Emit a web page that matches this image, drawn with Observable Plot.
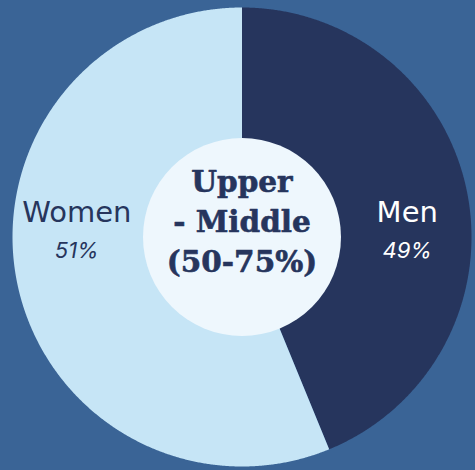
<!DOCTYPE html>
<html><head><meta charset="utf-8">
<script src="https://cdn.jsdelivr.net/npm/d3@7"></script>
<script src="https://cdn.jsdelivr.net/npm/@observablehq/plot@0.6"></script>
<style>html,body{margin:0;padding:0;background:#3a6496;overflow:hidden;}</style>
</head><body><div id="chart"></div>
<script>
// Data
const categories = ["Men", "Women"];
const shares = [43.8, 56.2];          // slice sizes as drawn
const percentLabels = ["49%", "51%"]; // printed labels
const titleLines = ["Upper", "- Middle", "(50-75%)"];

const colors = ["#26355d", "#c6e5f6"];
const labelColors = ["#ffffff", "#26355d"];

const W = 475, H = 470, cx = 241.5, cy = 236.5, R = 229.5;

const arcs = d3.pie().sort(null).value(d => d)(shares);
function slicePoints(a) {
  const pts = [{x: 0, y: 0}];
  const n = Math.max(2, Math.ceil((a.endAngle - a.startAngle) / 0.005));
  for (let k = 0; k <= n; k++) {
    const t = a.startAngle + (a.endAngle - a.startAngle) * k / n;
    pts.push({x: Math.sin(t), y: Math.cos(t)});
  }
  pts.push({x: 0, y: 0});
  return pts;
}

const labelR = 0.72;
const labelData = categories.map((c, i) => ({
  cat: c, pct: percentLabels[i], x: (i === 0 ? 1 : -1) * labelR, y: 0, color: labelColors[i]
}));

const chart = Plot.plot({
  width: W, height: H, margin: 0,
  x: {domain: [-cx / R, (W - cx) / R], range: [0, W], axis: null},
  y: {domain: [-(H - cy) / R, cy / R], range: [H, 0], axis: null},
  style: {background: "#3a6496"},
  marks: [
    ...arcs.map((a, i) => Plot.line(slicePoints(a), {x: "x", y: "y", fill: colors[i], stroke: "none", curve: "linear"})),
    Plot.dot([{x: 0, y: 0}], {x: "x", y: "y", r: 99, fill: "#eef7fd", stroke: "none"}),
    Plot.text(labelData, {x: "x", y: "y", text: "cat", fill: d => d.color, fontSize: 29, fontFamily: "DejaVu Sans", fontWeight: 400, lineAnchor: "bottom", dy: -15}),
    Plot.text(labelData, {x: "x", y: "y", text: "pct", fill: d => d.color, fontSize: 22, fontFamily: "Inter", fontStyle: "italic", lineAnchor: "bottom", dy: 21}),
    Plot.text([titleLines.join("\n")], {x: () => 0, y: () => 0, text: d => d, fill: "#26355d", fontSize: 29.5, fontFamily: "DejaVu Serif", fontWeight: 700, lineHeight: 1.35, lineAnchor: "middle", dy: -18, stroke: "#26355d", strokeWidth: 0.6})
  ]
});
document.getElementById("chart").appendChild(chart);
</script>
</body></html>
